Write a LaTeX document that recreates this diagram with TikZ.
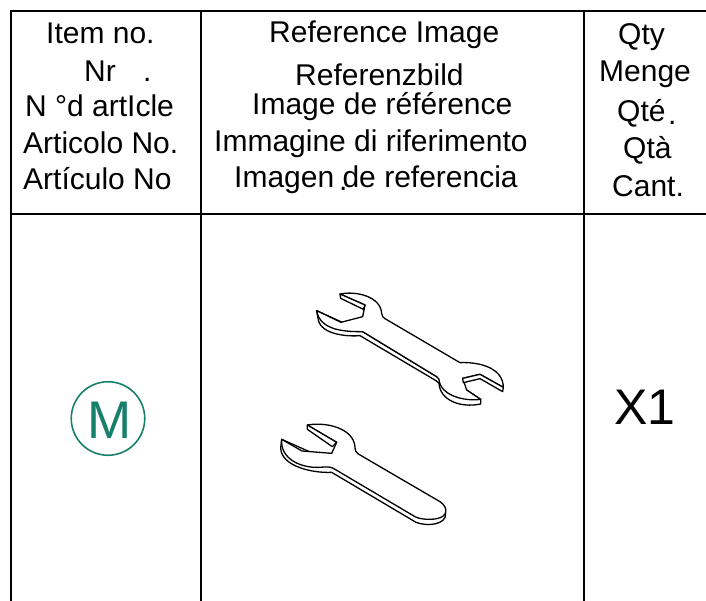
\documentclass[tikz,border=0pt]{standalone}
\usepackage{fontspec}
\setmainfont{Liberation Sans}
\definecolor{teal1}{HTML}{17806A}
\tikzset{
  rule/.style={line width=1.6pt,black},
  hd/.style={anchor=base west,inner sep=0pt,font=\fontsize{30}{32}\selectfont},
  wr/.style={line width=1.3pt,black,line join=round,fill=white}
}
\begin{document}
\begin{tikzpicture}[x=1pt,y=-1pt]
\useasboundingbox (0,0) rectangle (706,601);
\draw[rule] (11,601) -- (11,11) -- (706,11);
\draw[rule] (11,214) -- (706,214);
\draw[rule] (201,11) -- (201,601);
\draw[rule] (584,11) -- (584,601);
\node[hd] (a1) at (46,44) {Item no.};
\node[hd] (a2) at (84,81.5) {Nr};
\node[hd] (a2b) at (143,81.5) {.};
\node[hd] (a3) at (25,117) {N °d artIcle};
\node[hd] (a4) at (23,153.5) {Articolo No.};
\node[hd] (a5) at (23,190) {Artículo No};
\node[hd] (b1) at (269,42.5) {Reference Image};
\node[hd] (b2) at (295,85.5) {Referenzbild};
\node[hd] (b3) at (252,115) {Image de référence};
\node[hd] (b4) at (214,151.5) {Immagine di riferimento};
\node[hd] (b5) at (234,188) {Imagen de referencia};
\node[hd] (b5b) at (339,191) {.};
\node[hd] (c1) at (618,45) {Qty};
\node[hd] (c2) at (599,82) {Menge};
\node[hd] (c3) at (617,122) {Qté};
\node[hd] (c3b) at (668,125) {.};
\node[hd] (c4) at (623,159) {Qtà};
\node[hd] (c5) at (612,197) {Cant.};
\node[anchor=base west,inner sep=0pt,font=\fontsize{50}{52}\selectfont] (x1) at (614,424) {X1};
\node[circle,draw=teal1,line width=1.6pt,minimum size=73.5pt,inner sep=0pt] (mc) at (108,418.5) {};
\node[anchor=base,inner sep=0pt,text=teal1,font=\fontsize{53}{56}\selectfont] (m) at (109.5,438) {M};
% upper wrench
\begin{scope}[shift={(290,280)},x=0.3333pt,y=-0.3333pt]
\draw[wr] (80,92) -- (85,120) .. controls (95,165) and (175,170) .. (210,167) -- (438,302) -- (447,310)
  .. controls (450,360) and (510,385) .. (572,372) -- (572,358) -- (530,330) -- (440,290) -- (218,155) -- cycle;
\draw[wr] (150,42) .. controls (200,32) and (272,50) .. (275,100) .. controls (276,108) and (278,112) .. (285,116)
  -- (510,248) .. controls (570,245) and (640,265) .. (640,322) -- (570,283) -- (518,295) -- (530,330) -- (572,358)
  .. controls (520,365) and (450,345) .. (447,298) -- (440,290) -- (218,155)
  .. controls (175,155) and (90,155) .. (80,92) -- (153,127) -- (218,110) -- (225,75) -- cycle;
\draw[wr] (150,42) -- (152,55) -- (220,88) -- (225,75) -- cycle;
\draw[wr] (640,322) -- (638,335) -- (570,296) -- (520,308) -- (518,295) -- (570,283) -- cycle;
\end{scope}
% lower wrench
\begin{scope}[shift={(270,410)},x=0.3333pt,y=-0.3333pt]
\draw[wr] (35,88) -- (32,115) .. controls (35,170) and (130,190) .. (185,187) -- (438,337)
  .. controls (470,350) and (530,345) .. (527,310) -- (400,250) -- cycle;
\draw[wr] (112,45) .. controls (170,35) and (250,55) .. (255,110) .. controls (255,122) and (258,127) .. (265,132)
  -- (510,275) .. controls (535,292) and (535,320) .. (500,326) .. controls (480,330) and (450,328) .. (435,320)
  -- (190,175) .. controls (180,170) and (170,170) .. (150,172) .. controls (90,175) and (30,145) .. (35,88)
  -- (96,123) -- (185,130) -- (200,97) -- cycle;
\draw[wr] (112,45) -- (112,58) -- (187,110) -- (200,97) -- cycle;
\end{scope}
\end{tikzpicture}
\end{document}
